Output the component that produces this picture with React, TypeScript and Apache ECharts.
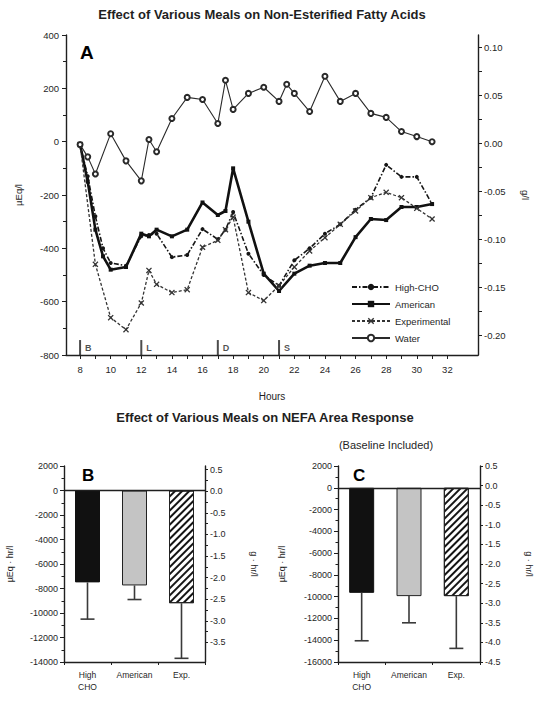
import React, { useEffect, useRef } from "react";
import * as echarts from "echarts";

const FONT = "'Liberation Sans', Arial, Helvetica, sans-serif";
const INK = "#1f1f1f";

// ---- Panel A data (hours, µEq/l) ----
const hoursWater = [8, 8.5, 9, 10, 11, 12, 12.5, 13, 14, 15, 16, 17, 17.5, 18, 19, 20, 21, 21.5, 22, 23, 24, 25, 26, 27, 28, 29, 30, 31];
const valuesWater = [-11, -57, -121, 30, -72, -147, 8, -38, 87, 166, 158, 68, 230, 121, 181, 204, 151, 215, 181, 113, 245, 151, 181, 106, 91, 38, 19, 0];

const hoursAmerican = [8, 8.5, 9, 9.5, 10, 11, 12, 12.5, 13, 14, 15, 16, 17, 17.5, 18, 19, 20, 21, 22, 23, 24, 25, 26, 27, 28, 29, 30, 31];
const valuesAmerican = [-11, -150, -330, -430, -480, -470, -345, -355, -330, -355, -330, -228, -275, -260, -100, -300, -495, -560, -495, -465, -455, -455, -358, -290, -294, -245, -245, -234];

const hoursHighCHO = [8, 8.5, 9, 9.5, 10, 11, 12, 12.5, 13, 14, 15, 16, 17, 17.5, 18, 19, 20, 21, 22, 23, 24, 25, 26, 27, 28, 29, 30, 31];
const valuesHighCHO = [-11, -130, -280, -400, -455, -465, -355, -350, -345, -433, -425, -328, -366, -330, -264, -420, -500, -540, -445, -400, -345, -310, -255, -210, -87, -132, -132, -234];

const hoursExperimental = [8, 9, 10, 11, 12, 12.5, 13, 14, 15, 16, 17, 17.5, 18, 19, 20, 21, 22, 23, 24, 25, 26, 27, 28, 29, 30, 31];
const valuesExperimental = [-11, -460, -660, -705, -605, -483, -535, -566, -555, -396, -370, -330, -283, -566, -596, -540, -470, -410, -360, -310, -260, -210, -190, -210, -250, -290];

const mealHours = [8, 12, 17, 21];
const mealLabels = ["B", "L", "D", "S"];

const hourLabelValues = [8, 10, 12, 14, 16, 18, 20, 22, 24, 26, 28, 30, 32];
const hourTickValues = [8, 9, 10, 11, 12, 13, 14, 15, 16, 17, 18, 19, 20, 21, 22, 23, 24, 25, 26, 27, 28, 29, 30, 31, 32];
const rightALabelValues = [0.1, 0.05, 0, -0.05, -0.1, -0.15, -0.2];
const rightATickValues = [0.1, 0.075, 0.05, 0.025, 0, -0.025, -0.05, -0.075, -0.1, -0.125, -0.15, -0.175, -0.2];

// ---- Panels B and C data (µEq·hr/l) ----
const barCategories = ["High\nCHO", "American", "Exp."];
const areaB = [-7500, -7750, -9200];
const sdB = [3000, 1150, 4500];
const areaC = [-9650, -9950, -9950];
const sdC = [4400, 2450, 4800];
const rightBLabelValues = [0.5, 0, -0.5, -1, -1.5, -2, -2.5, -3, -3.5];
const rightBTickValues = [0.5, 0.25, 0, -0.25, -0.5, -0.75, -1, -1.25, -1.5, -1.75, -2, -2.25, -2.5, -2.75, -3, -3.25, -3.5];

const pairs = (xs: number[], ys: number[]) => xs.map((x, i) => [x, ys[i]]);

const axisFont = { fontSize: 9.5, color: INK, fontFamily: FONT };
const smallFont = { fontSize: 9, color: INK, fontFamily: FONT };
const lineStyleAxis = { color: INK, width: 1.4 };
const plain = (v: number) => String(v);

const barItems = (vals: number[]) =>
  vals.map((v, i) => {
    if (i === 0) return { value: v, itemStyle: { color: "#111", borderColor: "#111", borderWidth: 1 } };
    if (i === 1) return { value: v, itemStyle: { color: "#c4c4c4", borderColor: "#222", borderWidth: 1 } };
    return {
      value: v,
      itemStyle: {
        color: "#ffffff",
        borderColor: "#222",
        borderWidth: 1,
        decal: {
          symbol: "rect",
          symbolSize: 1,
          dashArrayX: [1, 0],
          dashArrayY: [2, 3],
          rotation: -Math.PI / 4,
          color: "#151515",
          backgroundColor: "#ffffff",
        },
      },
    };
  });

const errRender = (params: any, api: any) => {
  const cat = api.value(0);
  const top = api.coord([cat, api.value(1)]);
  const bot = api.coord([cat, api.value(2)]);
  const style = { stroke: "#3a3a3a", lineWidth: 1.6 };
  return {
    type: "group",
    children: [
      { type: "line", shape: { x1: top[0], y1: top[1], x2: bot[0], y2: bot[1] }, style },
      { type: "line", shape: { x1: bot[0] - 7, y1: bot[1], x2: bot[0] + 7, y2: bot[1] }, style },
    ],
  };
};

const errData = (vals: number[], sds: number[]) => vals.map((v, i) => [i, v, v - sds[i]]);

const xSymbol = "path://M0,1.5L1.5,0L5,3.5L8.5,0L10,1.5L6.5,5L10,8.5L8.5,10L5,6.5L1.5,10L0,8.5L3.5,5Z";

export default function App() {
  const ref = useRef<HTMLDivElement>(null);
  useEffect(() => {
    if (!ref.current) return;
    const chart = echarts.init(ref.current, null, { renderer: "svg" });
    const catAxis = (gridIndex: number) => ({
      type: "category",
      gridIndex,
      data: barCategories,
      position: "bottom",
      axisLine: { onZero: false, lineStyle: lineStyleAxis },
      axisTick: { show: true, length: 3, lineStyle: { color: INK } },
      axisLabel: { ...smallFont, fontSize: 8.5, interval: 0, hideOverlap: false, margin: 7, lineHeight: 12 },
      splitLine: { show: false },
    });
    const option: any = {
      animation: false,
      backgroundColor: "#ffffff",
      textStyle: { fontFamily: FONT },
      grid: [
        { left: 66, top: 35, width: 412, height: 320 },
        { left: 64, top: 466, width: 141, height: 196 },
        { left: 338, top: 466, width: 142, height: 196 },
      ],
      legend: {
        data: ["High-CHO", "American", "Experimental", "Water"],
        orient: "vertical",
        left: 346,
        top: 277,
        itemWidth: 38,
        itemHeight: 8,
        itemGap: 7,
        textStyle: { fontSize: 9.5, color: INK, fontFamily: FONT },
      },
      xAxis: [
        {
          type: "value",
          gridIndex: 0,
          min: 7.08,
          max: 34.0,
          axisLine: { onZero: false, lineStyle: lineStyleAxis },
          axisTick: { customValues: hourTickValues, length: 4, lineStyle: { color: INK } },
          axisLabel: { ...axisFont, customValues: hourLabelValues, margin: 9 },
          splitLine: { show: false },
          name: "Hours",
          nameLocation: "middle",
          nameGap: 36,
          nameTextStyle: { ...axisFont, fontSize: 10 },
        },
        catAxis(1),
        catAxis(2),
      ],
      yAxis: [
        {
          type: "value",
          gridIndex: 0,
          min: -800,
          max: 400,
          interval: 200,
          axisLine: { show: true, onZero: false, lineStyle: lineStyleAxis },
          axisTick: { show: true, length: 4, lineStyle: { color: INK } },
          minorTick: { show: true, splitNumber: 2, length: 3, lineStyle: { color: INK } },
          axisLabel: { ...axisFont, margin: 7, formatter: plain },
          splitLine: { show: false },
          name: "µEq/l",
          nameLocation: "middle",
          nameGap: 43,
          nameTextStyle: { ...axisFont },
        },
        {
          type: "value",
          gridIndex: 0,
          position: "right",
          min: -0.2208,
          max: 0.1125,
          axisLine: { show: true, onZero: false, lineStyle: lineStyleAxis },
          axisTick: { show: true, customValues: rightATickValues, length: 4, lineStyle: { color: INK } },
          axisLabel: { ...axisFont, customValues: rightALabelValues, margin: 6, formatter: (v: number) => v.toFixed(2) },
          splitLine: { show: false },
          name: "g/l",
          nameLocation: "middle",
          nameRotate: -90,
          nameGap: 42,
          nameTextStyle: { ...axisFont },
        },
        {
          type: "value",
          gridIndex: 1,
          min: -14000,
          max: 2000,
          interval: 2000,
          axisLine: { show: true, onZero: false, lineStyle: lineStyleAxis },
          axisTick: { show: true, length: 4, lineStyle: { color: INK } },
          minorTick: { show: true, splitNumber: 2, length: 2.5, lineStyle: { color: INK } },
          axisLabel: { ...smallFont, margin: 6, formatter: plain },
          splitLine: { show: false },
          name: "µEq · hr/l",
          nameLocation: "middle",
          nameGap: 50,
          nameTextStyle: { ...smallFont },
        },
        {
          type: "value",
          gridIndex: 1,
          position: "right",
          min: -3.951,
          max: 0.581,
          axisLine: { show: true, onZero: false, lineStyle: lineStyleAxis },
          axisTick: { show: true, customValues: rightBTickValues, length: 3, lineStyle: { color: INK } },
          axisLabel: { ...smallFont, customValues: rightBLabelValues, margin: 5, formatter: (v: number) => v.toFixed(1) },
          splitLine: { show: false },
          name: "g · hr/l",
          nameLocation: "middle",
          nameRotate: -90,
          nameGap: 44,
          nameTextStyle: { ...smallFont },
        },
        {
          type: "value",
          gridIndex: 2,
          min: -16000,
          max: 2000,
          interval: 2000,
          axisLine: { show: true, onZero: false, lineStyle: lineStyleAxis },
          axisTick: { show: true, length: 4, lineStyle: { color: INK } },
          minorTick: { show: true, splitNumber: 2, length: 2.5, lineStyle: { color: INK } },
          axisLabel: { ...smallFont, margin: 6, formatter: plain },
          splitLine: { show: false },
          name: "µEq · hr/l",
          nameLocation: "middle",
          nameGap: 52,
          nameTextStyle: { ...smallFont },
        },
        {
          type: "value",
          gridIndex: 2,
          position: "right",
          min: -4.5,
          max: 0.5,
          interval: 0.5,
          axisLine: { show: true, onZero: false, lineStyle: lineStyleAxis },
          axisTick: { show: true, length: 3, lineStyle: { color: INK } },
          axisLabel: { ...smallFont, margin: 5, formatter: (v: number) => v.toFixed(1) },
          splitLine: { show: false },
          name: "g · hr/l",
          nameLocation: "middle",
          nameRotate: -90,
          nameGap: 44,
          nameTextStyle: { ...smallFont },
        },
      ],
      series: [
        {
          name: "High-CHO",
          type: "line",
          xAxisIndex: 0,
          yAxisIndex: 0,
          data: pairs(hoursHighCHO, valuesHighCHO),
          symbol: "circle",
          symbolSize: 4,
          itemStyle: { color: "#151515" },
          lineStyle: { color: "#151515", width: 1.6, type: [5, 2, 1.5, 2] },
        },
        {
          name: "American",
          type: "line",
          xAxisIndex: 0,
          yAxisIndex: 0,
          data: pairs(hoursAmerican, valuesAmerican),
          symbol: "rect",
          symbolSize: 4,
          itemStyle: { color: "#111" },
          lineStyle: { color: "#111", width: 2.6 },
        },
        {
          name: "Experimental",
          type: "line",
          xAxisIndex: 0,
          yAxisIndex: 0,
          data: pairs(hoursExperimental, valuesExperimental),
          symbol: xSymbol,
          symbolSize: 6,
          itemStyle: { color: "#333" },
          lineStyle: { color: "#333", width: 1.3, type: [3, 2] },
        },
        {
          name: "Water",
          type: "line",
          xAxisIndex: 0,
          yAxisIndex: 0,
          data: pairs(hoursWater, valuesWater),
          symbol: "emptyCircle",
          symbolSize: 5,
          itemStyle: { color: "#2a2a2a", borderWidth: 1 },
          lineStyle: { color: "#2a2a2a", width: 1.1 },
        },
        {
          type: "scatter",
          xAxisIndex: 0,
          yAxisIndex: 0,
          silent: true,
          symbol: "rect",
          symbolSize: [2, 15],
          itemStyle: { color: INK },
          data: mealHours.map((h, i) => ({ value: [h, -772], name: mealLabels[i] })),
          label: {
            show: true,
            position: "right",
            distance: 4,
            formatter: (p: any) => p.name,
            fontSize: 9,
            fontWeight: "bold",
            color: INK,
            fontFamily: FONT,
          },
        },
        {
          type: "bar",
          xAxisIndex: 1,
          yAxisIndex: 2,
          barWidth: 25,
          data: barItems(areaB),
          markLine: {
            silent: true,
            symbol: ["none", "none"],
            label: { show: false },
            lineStyle: { color: INK, width: 1.3, type: "solid" },
            data: [{ yAxis: 0 }],
          },
        },
        {
          type: "custom",
          xAxisIndex: 1,
          yAxisIndex: 2,
          renderItem: errRender,
          encode: { x: 0, y: [1, 2] },
          data: errData(areaB, sdB),
          z: 5,
        },
        {
          type: "bar",
          xAxisIndex: 2,
          yAxisIndex: 4,
          barWidth: 25,
          data: barItems(areaC),
          markLine: {
            silent: true,
            symbol: ["none", "none"],
            label: { show: false },
            lineStyle: { color: INK, width: 1.3, type: "solid" },
            data: [{ yAxis: 0 }],
          },
        },
        {
          type: "custom",
          xAxisIndex: 2,
          yAxisIndex: 4,
          renderItem: errRender,
          encode: { x: 0, y: [1, 2] },
          data: errData(areaC, sdC),
          z: 5,
        },
      ],
      graphic: [
        {
          type: "text",
          x: 262,
          y: 8,
          style: { text: "Effect of Various Meals on Non-Esterified Fatty Acids", align: "center", fontSize: 13, fontWeight: "bold", fill: INK, fontFamily: FONT },
        },
        {
          type: "text",
          x: 265,
          y: 411,
          style: { text: "Effect of Various Meals on NEFA Area Response", align: "center", fontSize: 13, fontWeight: "bold", fill: INK, fontFamily: FONT },
        },
        {
          type: "text",
          x: 386,
          y: 439,
          style: { text: "(Baseline Included)", align: "center", fontSize: 11, fill: INK, fontFamily: FONT },
        },
        {
          type: "text",
          left: 80,
          top: 43,
          style: { text: "A", fontSize: 19, fontWeight: "bold", fill: "#000", fontFamily: FONT },
        },
        {
          type: "text",
          left: 82,
          top: 467,
          style: { text: "B", fontSize: 17, fontWeight: "bold", fill: "#000", fontFamily: FONT },
        },
        {
          type: "text",
          left: 350,
          top: 466,
          z: 100,
          style: { text: "C", fontSize: 17, fontWeight: "bold", fill: "#000", fontFamily: FONT, backgroundColor: "#fff", padding: [1, 22, 2, 3] },
        },
      ],
    };
    chart.setOption(option);
    return () => chart.dispose();
  }, []);
  return <div ref={ref} style={{ width: 538, height: 704, position: "absolute", left: 0, top: 0 }} />;
}
